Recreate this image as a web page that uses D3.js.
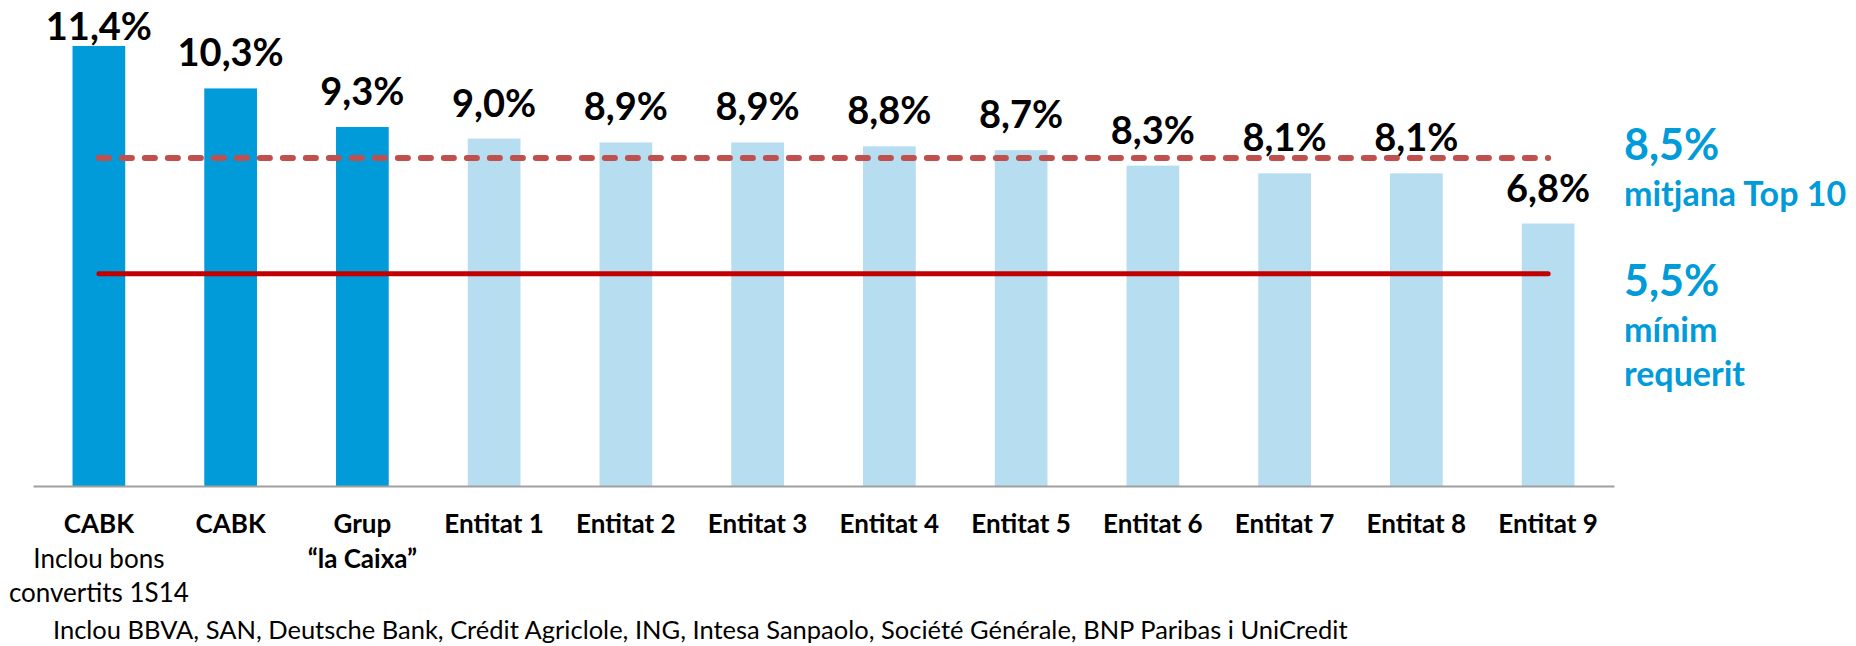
<!DOCTYPE html>
<html>
<head>
<meta charset="utf-8">
<script src="https://cdn.jsdelivr.net/npm/d3@7"></script>
<style>
  html, body { margin: 0; padding: 0; background: #fff; }
  svg { display: block; font-family: Lato, "Open Sans", sans-serif; }
</style>
</head>
<body>
<div class="bar-chart"></div>
<script>
// data
const labels = [["CABK"], ["CABK"], ["Grup", "“la Caixa”"], ["Entitat 1"], ["Entitat 2"], ["Entitat 3"],
                ["Entitat 4"], ["Entitat 5"], ["Entitat 6"], ["Entitat 7"], ["Entitat 8"], ["Entitat 9"]];
const notes = [["Inclou bons", "convertits 1S14"], [], [], [], [], [], [], [], [], [], [], []];
const values = [11.4, 10.3, 9.3, 9.0, 8.9, 8.9, 8.8, 8.7, 8.3, 8.1, 8.1, 6.8];
const groups = ["caixa", "caixa", "caixa", "peer", "peer", "peer", "peer", "peer", "peer", "peer", "peer", "peer"];
const average = 8.5;
const minimum = 5.5;
const averageLabel = ["mitjana Top 10"];
const minimumLabel = ["mínim", "requerit"];
const footnote = "Inclou BBVA, SAN, Deutsche Bank, Crédit Agriclole, ING, Intesa Sanpaolo, Société Générale, BNP Paribas i UniCredit";

const width = 1856, height = 646;
const color = {caixa: "#009bd8", peer: "#b7ddf0"};
const blue = "#009bd8";

const locale = d3.formatLocale({decimal: ",", thousands: ".", grouping: [3], currency: ["", "€"]});
const fmt = v => locale.format(".1f")(v) + "%";

const svg = d3.select(".bar-chart")
              .append("svg")
              .attr("width", width)
              .attr("height", height);

const idx = values.map((d, i) => i);

let xScale = d3.scaleBand()
               .domain(idx)
               .range([33, 1614])
               .paddingInner(0.6)
               .paddingOuter(0.3);

let yScale = d3.scaleLinear()
               .domain([0, 12])
               .range([486, 486 - 12 * 38.6]);

// bars
svg.append("g").selectAll("rect")
   .data(idx)
   .join("rect")
   .attr("x", i => xScale(i))
   .attr("y", i => yScale(values[i]))
   .attr("width", xScale.bandwidth())
   .attr("height", i => yScale(0) - yScale(values[i]))
   .attr("fill", i => color[groups[i]]);

// axis baseline
let xAxis = d3.axisBottom(xScale).tickSize(0).tickFormat("");
svg.append("g")
   .attr("transform", `translate(0,${yScale(0)})`)
   .call(xAxis)
   .call(g => g.select(".domain").attr("stroke", "#a0a0a0").attr("stroke-width", 2));

// reference lines
const x0 = xScale(0) + xScale.bandwidth() / 2;
const x1 = xScale(values.length - 1) + xScale.bandwidth() / 2;

svg.append("line")
   .attr("x1", x0).attr("x2", x1)
   .attr("y1", yScale(average)).attr("y2", yScale(average))
   .attr("stroke", "#c0504d")
   .attr("stroke-width", 6)
   .attr("stroke-linecap", "round")
   .attr("stroke-dasharray", "10,13");

svg.append("line")
   .attr("x1", x0).attr("x2", x1)
   .attr("y1", yScale(minimum)).attr("y2", yScale(minimum))
   .attr("stroke", "#c00000")
   .attr("stroke-width", 5)
   .attr("stroke-linecap", "round");

// value labels
svg.append("g").selectAll("text")
   .data(idx)
   .join("text")
   .attr("x", i => xScale(i) + xScale.bandwidth() / 2)
   .attr("y", i => Math.max(yScale(values[i]) - 22, 40))
   .attr("text-anchor", "middle")
   .attr("font-size", 38)
   .attr("font-weight", "bold")
   .attr("fill", "#000")
   .text(i => fmt(values[i]));

// category labels
const cat = svg.append("g").selectAll("text")
   .data(idx)
   .join("text")
   .attr("text-anchor", "middle")
   .attr("fill", "#000");

cat.each(function(i) {
    const cx = xScale(i) + xScale.bandwidth() / 2;
    const t = d3.select(this);
    labels[i].forEach((s, k) => {
        t.append("tspan").attr("x", cx).attr("y", 533 + k * 35)
         .attr("font-size", 26).attr("font-weight", "bold").text(s);
    });
    notes[i].forEach((s, k) => {
        t.append("tspan").attr("x", cx).attr("y", 533 + (labels[i].length + k) * 34.5)
         .attr("font-size", 26).text(s);
    });
});

// right side annotations
const side = svg.append("g").attr("fill", blue).attr("font-weight", "bold");
side.append("text").attr("x", 1624).attr("y", 160).attr("font-size", 43).text(fmt(average));
averageLabel.forEach((s, k) => side.append("text").attr("x", 1624).attr("y", 206 + k * 44).attr("font-size", 34).text(s));
side.append("text").attr("x", 1624).attr("y", 296).attr("font-size", 43).text(fmt(minimum));
minimumLabel.forEach((s, k) => side.append("text").attr("x", 1624).attr("y", 342 + k * 44).attr("font-size", 34).text(s));

// footnote
svg.append("text")
   .attr("x", 53)
   .attr("y", 639)
   .attr("font-size", 25.5)
   .attr("fill", "#000")
   .text(footnote);
</script>
</body>
</html>
